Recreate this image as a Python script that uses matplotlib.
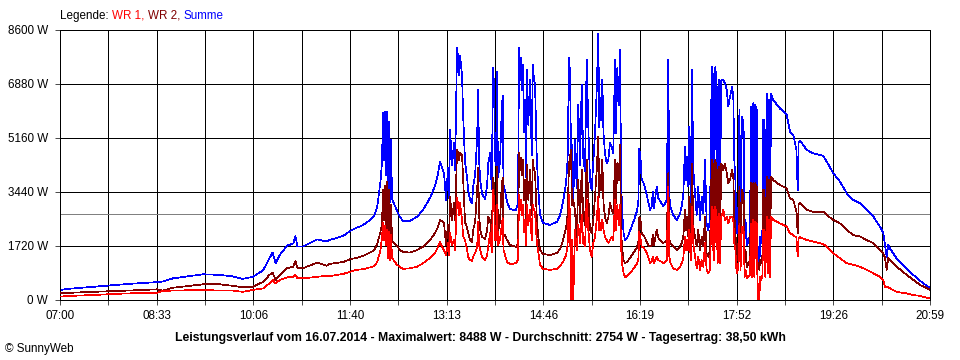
import numpy as np
import matplotlib
matplotlib.use('Agg')
import matplotlib.pyplot as plt

plt.rcParams['font.family'] = ['Liberation Sans', 'DejaVu Sans']
plt.rcParams['font.size'] = 8.4
plt.rcParams['lines.antialiased'] = False
plt.rcParams['patch.antialiased'] = False

# Minuten ab 07:00 Uhr
minuten = [
    0, 10, 32, 65, 94, 99, 109, 138, 154, 167, 176, 186, 196, 202, 205, 208, 212, 219, 225, 227,
    229, 234, 248, 257, 260, 273, 280, 286, 292, 299, 303, 306, 309, 310.5, 311.5, 312.5, 313.4,
    314.4, 315.3, 316.3, 317.3, 318.2, 319.2, 320.2, 325, 327.9, 330.8, 337.5, 344.3, 350.1,
    356.8, 361.6, 364.5, 366.5, 368.4, 370.3, 372.3, 374.2, 375.2, 376.2, 378.1, 380, 381,
    382.9, 383.9, 384.8, 385.8, 387.7, 388.7, 390.6, 392.6, 393.6, 395.5, 397.4, 398.4, 400.3,
    402.3, 403.2, 404.2, 405.2, 407.1, 410, 411.9, 412.9, 414.8, 416.4, 417.6, 418.6, 419.5,
    420.5, 421.4, 422.4, 424.3, 426, 426.9, 427.7, 429.1, 431.1, 434, 436.9, 439.8, 441.7,
    442.7, 443.6, 444.6, 445.6, 446.5, 447.5, 448.5, 449.4, 450.4, 451.6, 453.3, 454.9, 455.9,
    457.1, 458.1, 459.7, 461, 462.9, 465.8, 472.5, 479.3, 482.2, 485.1, 488, 489.5, 490.9,
    491.8, 492.8, 493.7, 495, 496.6, 498.3, 499.8, 501.5, 503.1, 504.6, 506.3, 507.9, 509.5,
    511.1, 512.7, 514.3, 515.9, 517.6, 519.1, 520.1, 521.1, 522, 523, 524.1, 525.6, 527.2,
    528.8, 530.4, 532.1, 533.6, 535.2, 536.2, 537.5, 538.8, 540.1, 541.1, 542, 543.5, 544.9,
    546.9, 549.7, 553, 556.2, 557.7, 558.7, 559.8, 561, 562.5, 564.2, 565.8, 567.3, 569, 570.6,
    571.6, 572.8, 575.4, 577, 578.6, 581.8, 585.1, 586.6, 587.6, 588.7, 591.4, 594.7, 597.9,
    599.5, 601.1, 602.7, 603.7, 604.9, 605.9, 606.9, 608.2, 609.5, 610.7, 612.4, 614, 615.5,
    617.2, 618.8, 620.4, 622, 623.6, 625.2, 626.8, 628.5, 629.4, 630, 631, 632, 633.3, 634.2,
    635.2, 636.5, 637.7, 639.7, 641.3, 643, 644.5, 646.1, 648.1, 649.3, 650.3, 651.3, 652.3,
    653.2, 654.2, 655.2, 656.3, 657.5, 658.4, 659.2, 660.2, 661.1, 662.6, 664, 665.4, 666.4,
    667.4, 668.6, 669.6, 670.5, 671.9, 672.8, 673.6, 674.4, 675.2, 676.2, 677.3, 678.2, 679.2,
    680.2, 681.5, 682.5, 683.5, 684.7, 685.7, 687.9, 694.3, 700.8, 704, 707.2, 710.2, 711.4,
    712.3, 713.6, 720.1, 726.5, 736.1, 739.4, 745.7, 752.2, 758.7, 765, 771.5, 778, 784.3,
    790.8, 794, 795.6, 797.2, 798.8, 800.4, 806.9, 816.5, 822.9, 829.4, 839,
]

wr1 = [
    110, 130, 160, 210, 230, 290, 300, 320, 300, 300, 260, 320, 370, 530, 640, 530, 640, 720, 740, 800,
    690, 690, 740, 770, 760, 830, 900, 960, 980, 1040, 1080, 1210, 1590, 1980, 2450, 1910, 2360,
    1750, 2230, 1340, 2170, 1270, 2070, 1340, 1120, 1050, 990, 1010, 1060, 1170,
    1340, 1500, 1690, 1850, 1690, 1590, 1430, 1820, 1430, 2130, 1750, 1910, 1590,
    3250, 3030, 2710, 3090, 2550, 2040, 1910, 1590, 1370, 1270, 1240, 1370, 1500,
    1690, 2480, 1750, 1590, 1370, 1270, 1430, 1690, 2130, 1530, 3500, 3190, 1910,
    1910, 3030, 1750, 1910, 2390, 2610, 1590, 1430, 1210, 1150, 1150, 1180, 1270,
    3340, 2870, 3190, 2710, 3030, 2170, 2550, 1750, 3030, 2390, 2870, 1910, 3030,
    2870, 2800, 1910, 1590, 1120, 990, 960, 990, 1080, 1210, 1430, 1750, 3340,
    2680, 0, 1910, 0, 2230, 1590, 2390, 1820, 2710, 1820, 1720, 3190, 2230,
    1590, 1370, 1820, 2010, 2550, 3280, 2230, 2450, 2230, 2550, 2230, 2010, 1910,
    1820, 1910, 2010, 1910, 3190, 2230, 3030, 2390, 3030, 1690, 1180, 860, 730,
    760, 860, 990, 1150, 1270, 2170, 1980, 1690, 1690, 1590, 1500, 1370, 1170, 1220,
    1380, 1170, 1380, 1270, 1250, 1170, 1270, 3610, 1380, 1170, 1010, 960, 1040,
    1170, 1330, 2020, 1590, 1910, 1590, 2230, 1270, 2970, 1810, 1380, 1010, 1380,
    960, 1270, 1060, 1810, 960, 850, 960, 2970, 1590, 2870, 1270, 2970, 2650, 1170,
    2760, 1170, 2650, 2870, 2550, 2650, 2440, 2650, 2650, 2550, 1810, 1590, 960,
    850, 1170, 2440, 960, 2340, 2120, 2340, 740, 960, 690, 740, 800, 2440,
    740, 2550, 740, 2490, 2440, 0, 530, 0, 740, 640, 740, 2230, 2230,
    740, 2650, 850, 2550, 740, 2650, 2550, 2440, 2340, 2120, 2070, 1980, 1380,
    1980, 2000, 1910, 1860, 1780, 1700, 1490, 1330, 1170, 1120, 1060, 960, 850,
    740, 640, 420, 420, 410, 370, 260, 210, 160, 130, 50,
]

wr2 = [
    210, 230, 260, 300, 340, 300, 390, 500, 500, 450, 410, 420, 580, 800, 870, 640, 800, 1010, 1060, 1240,
    1010, 1010, 1190, 1090, 1150, 1210, 1300, 1340, 1400, 1510, 1590, 1780, 2170, 2390, 3500, 2550, 3630,
    2230, 3760, 1910, 3500, 1850, 3030, 1880, 1720, 1590, 1530, 1510, 1590, 1700,
    1910, 2130, 2330, 2550, 2520, 2450, 1750, 2390, 1820, 3280, 2550, 3090, 2550,
    4780, 4710, 4460, 4680, 4620, 3920, 2480, 2290, 2130, 1910, 1850, 2230, 2480,
    3500, 4200, 2710, 2230, 2010, 1940, 2230, 2640, 2550, 2010, 3890, 3660, 2550,
    2390, 4240, 2170, 2480, 3660, 3890, 2070, 2070, 1910, 1750, 1720, 1690, 1820,
    4680, 4140, 4520, 3980, 4460, 3190, 3820, 2170, 4300, 3190, 4140, 2710, 4460,
    4140, 4080, 2710, 2070, 1590, 1470, 1430, 1500, 1620, 1910, 2290, 2710, 4360,
    4560, 4780, 3030, 3190, 2870, 1980, 3820, 2480, 4140, 2710, 2390, 4460, 3280,
    2230, 2130, 2550, 3280, 4140, 5190, 3280, 3980, 3500, 4460, 3090, 2640, 2450,
    2640, 3090, 2870, 2770, 4460, 3090, 4360, 3820, 4940, 2230, 1690, 1270, 1180,
    1210, 1340, 1500, 1660, 1820, 2640, 2550, 2130, 2070, 1980, 1850, 1750, 1700, 1750,
    2070, 1750, 2230, 1980, 1910, 1810, 1910, 4040, 1910, 1810, 1700, 1590, 1700,
    1810, 2020, 2870, 2230, 2650, 2020, 3290, 1810, 4350, 2340, 2020, 1700, 2230,
    1590, 2020, 1700, 2650, 1490, 1380, 1590, 4460, 2760, 4350, 2230, 4460, 4140, 2020,
    4250, 2020, 4350, 4140, 4350, 4040, 3720, 3820, 4140, 3930, 2650, 2230, 1380,
    1270, 1810, 3610, 1270, 3500, 3080, 3400, 1170, 1590, 1060, 1170, 1270, 3720,
    1170, 3720, 1270, 3720, 3610, 1170, 1170, 960, 1270, 1170, 1380, 3500, 3500,
    1170, 3930, 1380, 3820, 1170, 3930, 3820, 3660, 3560, 3240, 3190, 2800, 2120,
    3030, 3080, 2870, 2810, 2810, 2710, 2550, 2440, 2230, 2070, 2020, 1910, 1810,
    1590, 1490, 1340, 960, 1340, 1270, 1060, 800, 640, 480, 330,
]

summe = np.array(wr1) + np.array(wr2)

zeit_labels = ['07:00', '08:33', '10:06', '11:40', '13:13', '14:46', '16:19', '17:52', '19:26', '20:59']
y_werte = [0, 1720, 3440, 5160, 6880, 8600]
durchschnitt = 2754
titel = ('Leistungsverlauf vom 16.07.2014 - Maximalwert: 8488 W - '
         'Durchschnitt: 2754 W - Tagesertrag: 38,50 kWh')
legende = [('Legende: ', 'black'), ('WR 1, ', '#ff0000'), ('WR 2, ', '#800000'), ('Summe', '#0000ff')]

fig = plt.figure(figsize=(9.6, 3.6), dpi=100)
ax = fig.add_axes([60 / 960, 60 / 360, 870 / 960, 270 / 360])
ax.set_xlim(0, 839)
ax.set_ylim(0, 8600)

gitter = np.linspace(0, 839, 19)
ax.set_xticks(gitter)
ax.set_xticklabels([zeit_labels[i // 2] if i % 2 == 0 else '' for i in range(19)])
ax.set_yticks(y_werte)
ax.set_yticklabels([f'{v} W' for v in y_werte])
ax.set_axisbelow(True)
ax.grid(True, color='black', lw=0.5)
ax.tick_params(length=3.6, width=0.5, color='black', labelcolor='black')
ax.tick_params(axis='y', pad=5)
ax.tick_params(axis='x', pad=3.5)
for s in ax.spines.values():
    s.set_linewidth(0.5)
    s.set_color('black')

ax.axhline(durchschnitt, color='#808080', lw=0.5, zorder=1.5)
ax.plot(minuten, summe, color='#0000ff', lw=0.5, zorder=2)
ax.plot(minuten, wr2, color='#800000', lw=0.5, zorder=3)
ax.plot(minuten, wr1, color='#ff0000', lw=0.5, zorder=4)

# Legende oben links, mehrfarbig
renderer = fig.canvas.get_renderer()
x = 60
for txt, farbe in legende:
    t = fig.text(x / 960, 1 - 16 / 360, txt, color=farbe, va='center', ha='left')
    x = t.get_window_extent(renderer).x1

fig.text(0.5, 1 - 338 / 360, titel, ha='center', va='center', fontweight='bold', fontsize=8.8)
fig.text(5 / 960, 1 - 349 / 360, '© SunnyWeb', ha='left', va='center')

fig.savefig('out.png', dpi=100)
